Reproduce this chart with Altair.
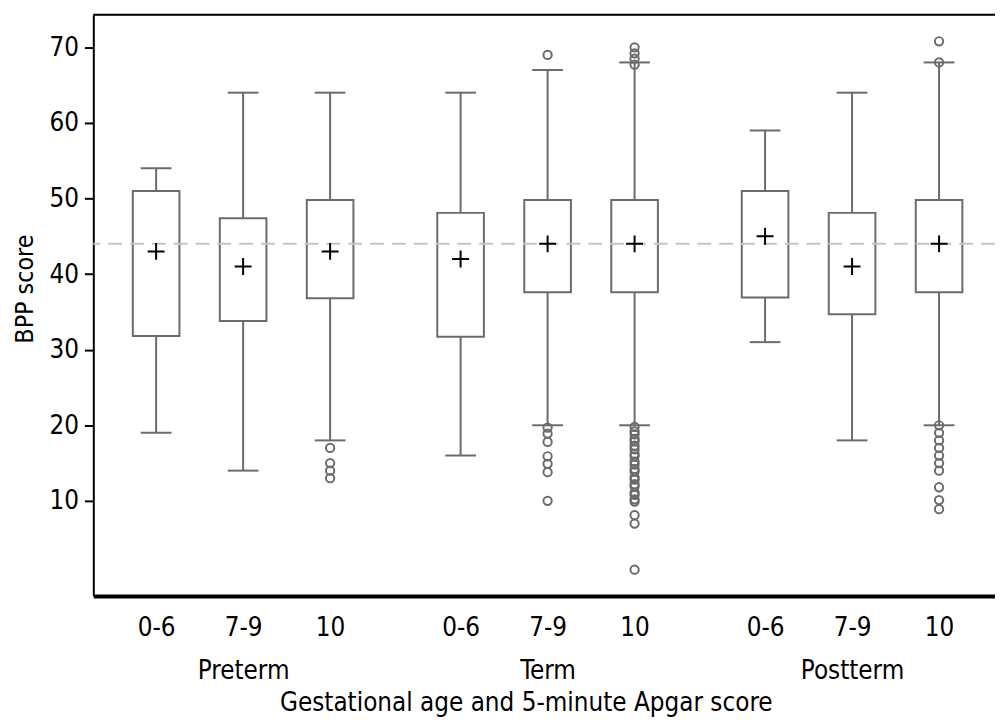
import json
import altair as alt
import pandas as pd

# ---------------- data ----------------
groups = ["Preterm", "Term", "Postterm"]
apgar_levels = ["0-6", "7-9", "10"]

# one entry per box, order: Preterm 0-6, 7-9, 10, Term 0-6, 7-9, 10, Postterm 0-6, 7-9, 10
whisker_low = [19, 14, 18, 16, 20, 20, 31, 18, 20]
q1 = [31.8, 33.8, 36.8, 31.7, 37.6, 37.6, 36.9, 34.7, 37.6]
q3 = [51.0, 47.4, 49.8, 48.1, 49.8, 49.8, 51.0, 48.1, 49.8]
whisker_high = [54, 64, 64, 64, 67, 68, 59, 64, 68]
means = [43, 41, 43, 42, 44, 44, 45, 41, 44]
outliers = [
    [],
    [],
    [17, 15, 14, 13],
    [],
    [69, 19.7, 18.9, 17.8, 15.9, 14.9, 13.8, 10],
    [70, 69.2, 68.5, 67.7,
     19.8, 19.2, 18.8, 18.2, 17.9, 17.3, 16.8, 16.2, 15.9, 15.2, 14.8,
     14.2, 13.9, 13.1, 12.8, 12.2, 11.9, 11.1, 10.8, 10.2, 9.9,
     8.1, 7.0, 0.9],
    [],
    [],
    [70.8, 68, 20, 19, 18, 17, 16, 15, 14, 11.8, 10.1, 8.9],
]
reference_score = 44
y_ticks = [10, 20, 30, 40, 50, 60, 70]

# ---------------- layout (not data) ----------------
W, H = 909, 586
GROUP_GAP = 0.5          # extra slot between gestational-age groups
FONT = "DejaVu Sans Condensed, Liberation Sans, sans-serif"
FS = 26
GRAY = "#6b6b6b"

rows = []
pos = []
label_arrays = []
for gi, g in enumerate(groups):
    for ai, a in enumerate(apgar_levels):
        p = gi * (len(apgar_levels) + GROUP_GAP) + ai + 1.0
        pos.append(p)
        label_arrays.append([a, g] if ai == 1 else [a])
for i in range(len(pos)):
    rows.append(dict(pos=pos[i], lo=whisker_low[i], q1=q1[i], q3=q3[i],
                     hi=whisker_high[i], mean=means[i]))
box_df = pd.DataFrame(rows)
out_df = pd.DataFrame([dict(pos=pos[i], value=v)
                       for i in range(len(pos)) for v in outliers[i]])
ref_df = pd.DataFrame({"ref": [reference_score]})

label_expr = f"{json.dumps(label_arrays)}[indexof({json.dumps(pos)}, datum.value)]"

x_scale = alt.Scale(domain=[0.335, 10.586], nice=False, zero=False)
y_scale = alt.Scale(domain=[-2.6, 74.3], nice=False, zero=False)

x_axis = alt.Axis(
    values=pos, labelExpr=label_expr, title="Gestational age and 5-minute Apgar score",
    ticks=False, tickSize=0, grid=False, domainColor="black", domainWidth=4,
    labelFont=FONT, labelFontSize=FS, labelColor="black", labelPadding=19,
    labelLineHeight=43, labelBaseline="top", labelOverlap=False, labelFlush=False,
    titleFont=FONT, titleFontSize=FS, titleFontWeight="normal", titleColor="black",
    titleX=436, titleY=115, titleBaseline="alphabetic", titleAlign="center",
)
y_axis = alt.Axis(
    values=y_ticks, title="BPP score", grid=False,
    domainColor="black", domainWidth=2, tickColor="black", tickWidth=2, tickSize=9,
    labelFont=FONT, labelFontSize=FS, labelColor="black", labelPadding=6,
    titleFont=FONT, titleFontSize=25, titleFontWeight="normal", titleColor="black",
    titleX=-69, titleY=276, titleAngle=270, titleBaseline="middle", titleAlign="center",
)

X = alt.X("pos:Q", scale=x_scale, axis=x_axis)


def Y(field):
    return alt.Y(f"{field}:Q", scale=y_scale, axis=y_axis)


base = alt.Chart(box_df)

whiskers = base.mark_rule(color=GRAY, strokeWidth=2).encode(x=X, y=Y("lo"), y2="hi:Q")
boxes = base.mark_bar(size=47, fill="white", stroke=GRAY, strokeWidth=2).encode(
    x=X, y=Y("q1"), y2="q3:Q")
cap_hi = base.mark_tick(orient="horizontal", size=31, thickness=2, color=GRAY, opacity=1).encode(
    x=X, y=Y("hi"))
cap_lo = base.mark_tick(orient="horizontal", size=31, thickness=2, color=GRAY, opacity=1).encode(
    x=X, y=Y("lo"))
ref_line = alt.Chart(ref_df).mark_rule(color="#c4c4c4", strokeWidth=2, strokeDash=[14, 8]).encode(
    y=Y("ref"))
mean_marks = base.mark_point(shape="M-1,0H1M0,-1V1", size=290, filled=False, color="black",
                             strokeWidth=2, opacity=1).encode(x=X, y=Y("mean"))
out_marks = alt.Chart(out_df).mark_point(shape="circle", size=70, filled=False, color=GRAY,
                                         strokeWidth=2, opacity=1).encode(x=X, y=Y("value"))
top_border = alt.Chart(ref_df).mark_rule(color="black", strokeWidth=2).encode(
    x=alt.value(0), x2=alt.value(W), y=alt.value(0))

chart = alt.layer(
    whiskers, boxes, ref_line, cap_hi, cap_lo, mean_marks, out_marks, top_border
).properties(
    width=W, height=H,
    autosize=alt.AutoSizeParams(type="none"),
    padding={"left": 86, "top": 4, "right": 0, "bottom": 120},
).configure_view(stroke=None).configure(font=FONT)

chart.save("out.html", embed_options={"renderer": "svg", "actions": False})
